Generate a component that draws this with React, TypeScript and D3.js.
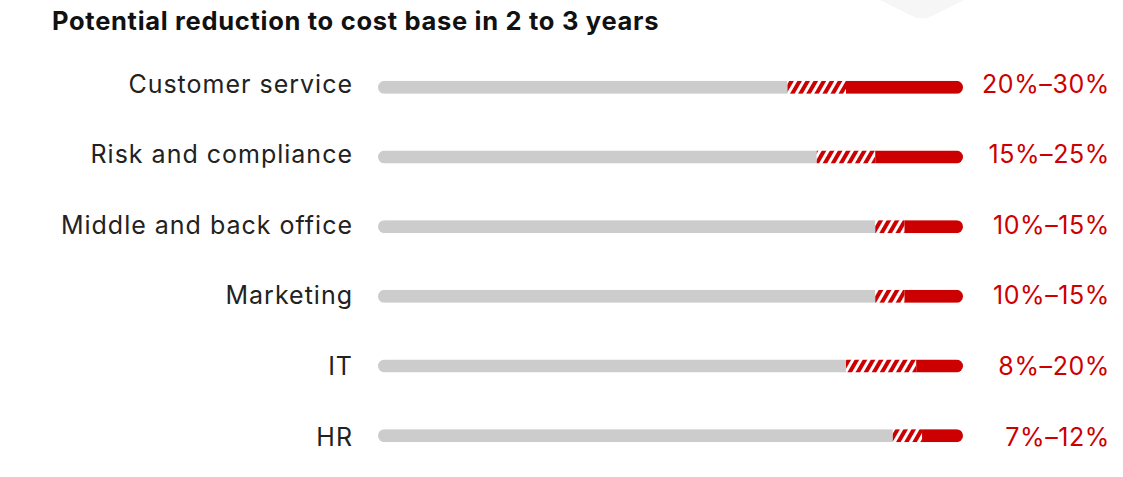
import React from "react";
import * as d3 from "d3";

const categories = ["Customer service", "Risk and compliance", "Middle and back office", "Marketing", "IT", "HR"];
const lowValues = [20, 15, 10, 10, 8, 7];
const highValues = [30, 25, 15, 15, 20, 12];
const valueLabels = ["20%–30%", "15%–25%", "10%–15%", "10%–15%", "8%–20%", "7%–12%"];

const W = 1123;
const H = 477;
const RED = "#cc0000";
const GRAY = "#cccccc";

export default function App() {
  const x = d3.scaleLinear().domain([100, 0]).range([378, 963]);
  const y = d3.scaleBand<string>().domain(categories).range([52.5, 470.5]).paddingInner(0).paddingOuter(0);
  const yText = d3.scalePoint<string>().domain(categories).range([92.5, 445.5]);
  const barH = 13;
  const font = "Inter, 'Noto Sans', sans-serif";

  return (
    <svg width={W} height={H} style={{ position: "absolute", left: 0, top: 0 }}>
      <defs>
        <pattern id="hatch" width="7" height="7" patternUnits="userSpaceOnUse" patternTransform="rotate(30)">
          <rect width="7" height="7" fill={RED} />
          <rect width="3" height="7" fill="#ffffff" />
        </pattern>
        {categories.map((c, i) => (
          <clipPath id={`clip${i}`} key={c}>
            <rect
              x={x(100)}
              y={(y(c) as number) + y.bandwidth() / 2 - barH / 2}
              width={x(0) - x(100)}
              height={barH}
              rx={barH / 2}
            />
          </clipPath>
        ))}
      </defs>
      <rect width={W} height={H} fill="#ffffff" />
      <path d="M 880 0 L 912 16 Q 922 21 932 16 L 964 0 Z" fill="#f6f6f6" />
      <text x={52} y={30} fontFamily={font} fontWeight={700} fontSize={25.5} fill="#111" letterSpacing={0.7}>
        Potential reduction to cost base in 2 to 3 years
      </text>
      {categories.map((c, i) => {
        const cy = (y(c) as number) + y.bandwidth() / 2;
        const top = cy - barH / 2;
        const ty = yText(c) as number;
        return (
          <g key={c}>
            <text x={353} y={ty} textAnchor="end" fontFamily={font} fontSize={25} fill="#222" letterSpacing={1.0}>
              {c}
            </text>
            <g clipPath={`url(#clip${i})`}>
              <rect x={x(100)} y={top} width={x(highValues[i]) - x(100)} height={barH} fill={GRAY} />
              <rect x={x(highValues[i])} y={top} width={x(lowValues[i]) - x(highValues[i])} height={barH} fill="url(#hatch)" />
              <rect x={x(lowValues[i])} y={top} width={x(0) - x(lowValues[i])} height={barH} fill={RED} />
            </g>
            <text x={1110} y={ty} textAnchor="end" fontFamily={font} fontSize={25} fill={RED} letterSpacing={0.6}>
              {valueLabels[i]}
            </text>
          </g>
        );
      })}
    </svg>
  );
}
